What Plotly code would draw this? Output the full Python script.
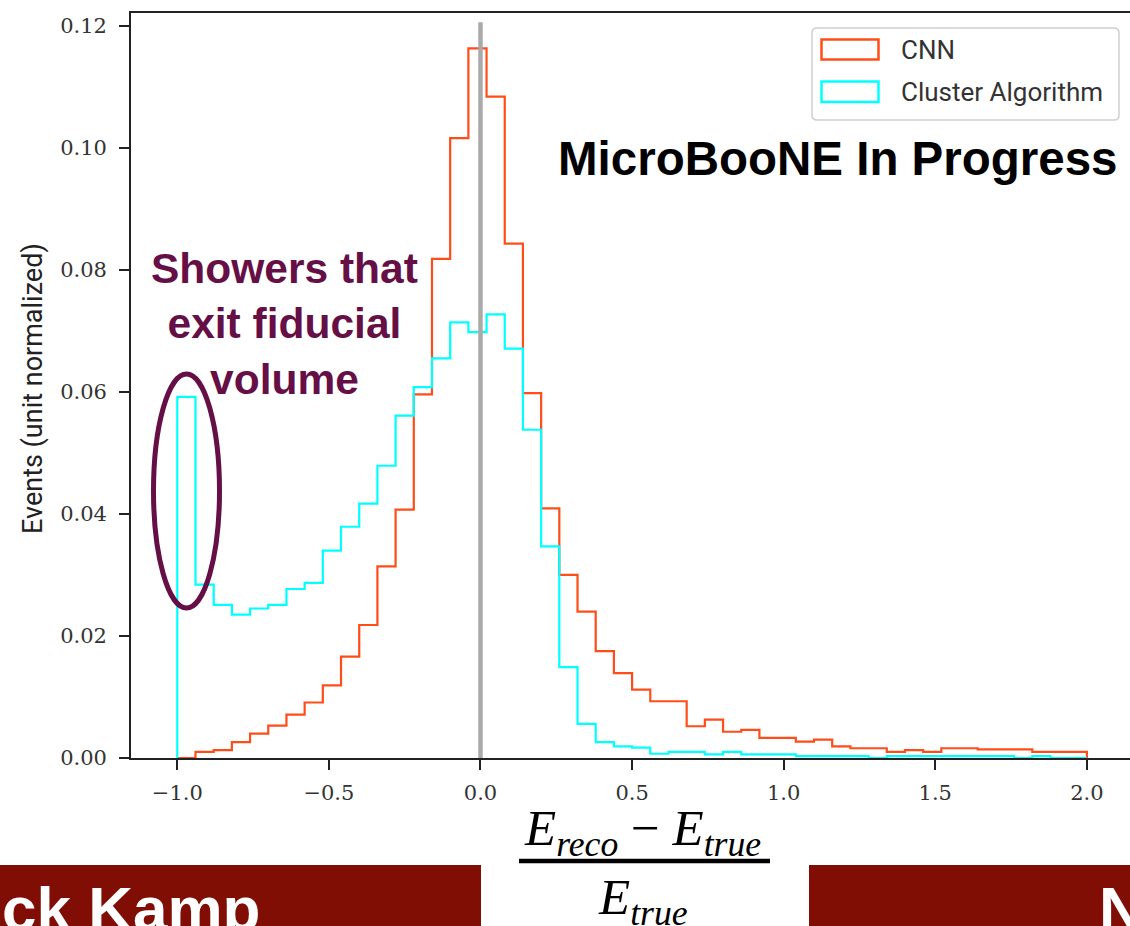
import numpy as np
import plotly.graph_objects as go

# Histogram binning: 50 bins over [-1, 2]
BIN_LO, BIN_HI, N_BINS = -1.0, 2.0, 50

# Unit-normalized bin contents
cnn = [
    0.0000, 0.0010, 0.0013, 0.0026, 0.0040, 0.0053, 0.0071, 0.0091, 0.0119, 0.0166,
    0.0218, 0.0314, 0.0407, 0.0596, 0.0818, 0.1016, 0.1163, 0.1084, 0.0843, 0.0598,
    0.0409, 0.0300, 0.0240, 0.0175, 0.0139, 0.0112, 0.0093, 0.0093, 0.0052, 0.0063,
    0.0043, 0.0046, 0.0033, 0.0033, 0.0027, 0.0030, 0.0019, 0.0016, 0.0016, 0.0010,
    0.0013, 0.0010, 0.0016, 0.0016, 0.0014, 0.0014, 0.0014, 0.0010, 0.0010, 0.0010,
]
cluster = [
    0.0592, 0.0284, 0.0251, 0.0235, 0.0245, 0.0251, 0.0277, 0.0287, 0.0340, 0.0379,
    0.0417, 0.0479, 0.0561, 0.0608, 0.0655, 0.0714, 0.0698, 0.0727, 0.0671, 0.0538,
    0.0347, 0.0149, 0.0056, 0.0026, 0.0019, 0.0017, 0.0007, 0.0010, 0.0010, 0.0006,
    0.0010, 0.0006, 0.0006, 0.0006, 0.0003, 0.0003, 0.0003, 0.0003, 0.0000, 0.0003,
    0.0003, 0.0003, 0.0003, 0.0003, 0.0003, 0.0003, 0.0000, 0.0003, 0.0000, 0.0000,
]
series_names = ["CNN", "Cluster Algorithm"]
series_colors = ["#ff4d1a", "#00ffff"]

x_ticks = [-1.0, -0.5, 0.0, 0.5, 1.0, 1.5, 2.0]
y_ticks = [0.00, 0.02, 0.04, 0.06, 0.08, 0.10, 0.12]

# reference line at zero bias
ref_x = 0.0
ref_top = 0.1206

X_RANGE = [-1.1527, 2.1422]
Y_RANGE = [0.0, 0.1221]

W, H = 1130, 926
ML, MR, MT, MB = 131, 0, 13, 168


def px(x):
    return (x - ML) / (W - ML - MR)


def py(y):
    return (H - MB - y) / (H - MT - MB)


edges = np.linspace(BIN_LO, BIN_HI, N_BINS + 1)


def step_xy(values):
    xs = [edges[0]] + list(edges)
    ys = [0.0] + list(values) + [0.0]
    return xs, ys


fig = go.Figure()
for name, vals, col in zip(series_names, [cnn, cluster], series_colors):
    xs, ys = step_xy(vals)
    fig.add_trace(go.Scatter(
        x=xs, y=ys, mode="lines", name=name,
        line=dict(color=col, width=2.2, shape="hv"),
        showlegend=False, hoverinfo="skip",
    ))

fig.add_trace(go.Scatter(
    x=[ref_x, ref_x], y=[0, ref_top], mode="lines",
    line=dict(color="#aaaaaa", width=4.5), showlegend=False, hoverinfo="skip",
))

shapes = []
annotations = []

# legend frame with rounded corners
lx0, lx1, ly0, ly1, r = 812, 1119, 28, 120, 5
path = (
    f"M {px(lx0 + r)},{py(ly0)} L {px(lx1 - r)},{py(ly0)} "
    f"Q {px(lx1)},{py(ly0)} {px(lx1)},{py(ly0 + r)} "
    f"L {px(lx1)},{py(ly1 - r)} Q {px(lx1)},{py(ly1)} {px(lx1 - r)},{py(ly1)} "
    f"L {px(lx0 + r)},{py(ly1)} Q {px(lx0)},{py(ly1)} {px(lx0)},{py(ly1 - r)} "
    f"L {px(lx0)},{py(ly0 + r)} Q {px(lx0)},{py(ly0)} {px(lx0 + r)},{py(ly0)} Z"
)
shapes.append(dict(type="path", path=path, xref="paper", yref="paper",
                   fillcolor="rgba(255,255,255,0.8)", line=dict(color="#cfcfcf", width=1.5)))

legend_rows = [(39.5, 59.5, 49.5), (81.5, 102, 92)]
for (ry0, ry1, ty), name, col in zip(legend_rows, series_names, series_colors):
    shapes.append(dict(type="rect", xref="paper", yref="paper",
                       x0=px(821.5), x1=px(878.5), y0=py(ry1), y1=py(ry0),
                       line=dict(color=col, width=2.5), fillcolor="rgba(0,0,0,0)"))
    annotations.append(dict(text=name, x=px(899), y=py(ty), xref="paper", yref="paper",
                            xanchor="left", yanchor="middle", showarrow=False,
                            font=dict(family="Roboto", size=26, color="#333333")))

# y axis title
annotations.append(dict(text="Events (unit normalized)", x=px(33), y=py(389),
                        xref="paper", yref="paper", textangle=-90, showarrow=False,
                        xanchor="center", yanchor="middle",
                        font=dict(family="Roboto", size=27, color="#222222")))

# x axis title as a fraction
serif = "Liberation Serif"
annotations.append(dict(
    text="<i>E</i><sub><i>reco</i></sub> − <i>E</i><sub><i>true</i></sub>",
    x=px(642), y=py(832), xref="paper", yref="paper", showarrow=False,
    xanchor="center", yanchor="middle", font=dict(family=serif, size=51, color="black")))
shapes.append(dict(type="line", xref="paper", yref="paper",
                   x0=px(519), x1=px(770), y0=py(861), y1=py(861),
                   line=dict(color="black", width=4.5)))
annotations.append(dict(
    text="<i>E</i><sub><i>true</i></sub>",
    x=px(643), y=py(901), xref="paper", yref="paper", showarrow=False,
    xanchor="center", yanchor="middle", font=dict(family=serif, size=51, color="black")))

# footer bars
footer_red = "#800e04"
shapes.append(dict(type="rect", xref="paper", yref="paper", x0=px(-5), x1=px(481),
                   y0=py(935), y1=py(865), fillcolor=footer_red, line=dict(width=0)))
shapes.append(dict(type="rect", xref="paper", yref="paper", x0=px(809), x1=px(1140),
                   y0=py(935), y1=py(865), fillcolor=footer_red, line=dict(width=0)))
annotations.append(dict(text="<b>ck Kamp</b>", x=px(262), y=py(872), xref="paper", yref="paper",
                        xanchor="right", yanchor="top", showarrow=False,
                        font=dict(family="Liberation Sans", size=62, color="white")))
annotations.append(dict(text="<b>N</b>", x=px(1097), y=py(872), xref="paper", yref="paper",
                        xanchor="left", yanchor="top", showarrow=False,
                        font=dict(family="Liberation Sans", size=62, color="white")))

# in-plot labels
annotations.append(dict(text="<b>MicroBooNE In Progress</b>", x=px(556), y=py(158),
                        xref="paper", yref="paper", xanchor="left", yanchor="middle",
                        showarrow=False,
                        font=dict(family="Liberation Sans", size=47.5, color="black")))
purple = "#660f46"
annotations.append(dict(text="<b>Showers that<br>exit fiducial<br>volume</b>",
                        x=px(284), y=py(324), xref="paper", yref="paper",
                        xanchor="center", yanchor="middle", align="center", showarrow=False,
                        font=dict(family="Liberation Sans", size=42.5, color=purple)))
shapes.append(dict(type="circle", xref="paper", yref="paper",
                   x0=px(153.5), x1=px(219.5), y0=py(608), y1=py(374),
                   line=dict(color=purple, width=5)))

tick_font = dict(family="DejaVu Serif", size=21, color="#333333")
fig.update_layout(
    width=W, height=H,
    margin=dict(l=ML, r=MR, t=MT, b=MB, pad=0),
    paper_bgcolor="white", plot_bgcolor="white",
    showlegend=False,
    shapes=shapes, annotations=annotations,
    xaxis=dict(range=X_RANGE, tickvals=x_ticks, tickformat=".1f", ticks="outside",
               ticklen=10, tickwidth=1.8, tickcolor="#222222", showline=True,
               linecolor="#222222", linewidth=1.8, mirror=True, showgrid=False,
               zeroline=False, tickfont=tick_font, ticklabelstandoff=5),
    yaxis=dict(range=Y_RANGE, tickvals=y_ticks, tickformat=".2f", ticks="outside",
               ticklen=10, tickwidth=1.8, tickcolor="#222222", showline=True,
               linecolor="#222222", linewidth=1.8, showgrid=False, zeroline=False,
               tickfont=tick_font, ticklabelstandoff=8),
)

fig.write_html("out.html")
